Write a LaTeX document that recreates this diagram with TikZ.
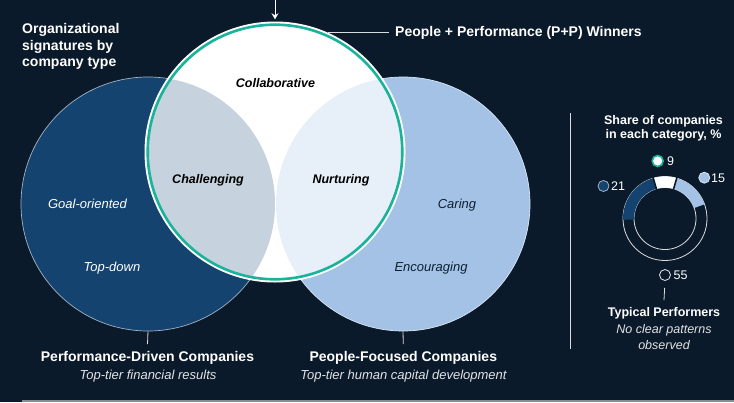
\documentclass[tikz,border=0pt]{standalone}
\usepackage{fontspec}
\setmainfont{Liberation Sans}
\usetikzlibrary{arrows.meta}

\definecolor{bgnavy}{HTML}{0B1A2A}
\definecolor{perfblue}{HTML}{14436F}
\definecolor{peopleblue}{HTML}{A3C2E6}
\definecolor{lensgrey}{HTML}{C6D2DD}
\definecolor{lenslight}{HTML}{E7EFF9}
\definecolor{pteal}{HTML}{19B29B}
\definecolor{inkdark}{HTML}{0E1F33}

\begin{document}
\begin{tikzpicture}[x=1pt,y=-1pt,
	ln/.style={draw=white!85!bgnavy, line width=0.8pt},
	hd/.style={text=white, font=\fontsize{14}{16.7}\selectfont\bfseries, inner xsep=0pt, inner ysep=6.5pt},
	sm/.style={text=white, font=\fontsize{12.5}{14.3}\selectfont\bfseries, inner xsep=0pt, inner ysep=6.5pt},
	sub/.style={text=white!88!bgnavy, font=\fontsize{13}{16}\selectfont\itshape, inner sep=0pt},
	trait/.style={text=black, font=\fontsize{12.5}{15}\selectfont\bfseries\itshape, inner sep=0pt},
	mood/.style={font=\fontsize{13}{15}\selectfont\itshape, inner sep=0pt},
	mk/.style={circle, minimum size=11pt, inner sep=0pt, line width=0.8pt},
	nb/.style={text=white, font=\fontsize{12.5}{15}\selectfont, inner sep=0pt, anchor=base west}]

\useasboundingbox (0,0) rectangle (734,402);
\fill[bgnavy] (0,0) rectangle (734,402);

%% cercles
\node[circle, minimum size=254pt, inner sep=0pt, fill=perfblue, draw=white!60!perfblue, line width=0.7pt] (perfcircle) at (148,204) {};
\node[circle, minimum size=254pt, inner sep=0pt, fill=peopleblue, draw=white!60!peopleblue, line width=0.7pt] (peoplecircle) at (403,204) {};
\node[circle, minimum size=261pt, inner sep=0pt, fill=white] (ppcircle) at (275,152) {};

\begin{scope}
\clip (ppcircle) circle (128pt);
\fill[lensgrey] (perfcircle) circle (127pt);
\fill[lenslight] (peoplecircle) circle (127pt);
\end{scope}
\draw[pteal, line width=2.6pt] (ppcircle) circle (127.3pt);

%% titre
\node[hd, inner ysep=0pt, anchor=north west, align=left] (title) at (22,23) {Organizational\\signatures by\\company type};

%% P+P
\coordinate (arrtop) at (275,0);
\draw[ln, draw=white, -{Stealth[length=6pt,width=7pt]}, shorten >=2pt] (arrtop) -- (ppcircle.north);
\node[hd, anchor=base west, inner xsep=6pt] (ppname) at (389,36.5) {People + Performance (P+P) Winners};
\draw[ln] (ppcircle.66) -- (ppcircle.66 -| ppname.west);

%% traits
\node[trait, anchor=base] (collab) at (275.5,87.3) {Collaborative};
\node[trait, anchor=base] (chall) at (208,183) {Challenging};
\node[trait, anchor=base] (nurt) at (341,183) {Nurturing};
\node[mood, text=white, anchor=base] (goal) at (87.5,208.5) {Goal-oriented};
\node[mood, text=white, anchor=base] (topdown) at (112,271) {Top-down};
\node[mood, text=inkdark, anchor=base] (caring) at (457,208.5) {Caring};
\node[mood, text=inkdark, anchor=base] (encour) at (431,271) {Encouraging};

%% noms en bas
\node[hd, anchor=base] (perfname) at (147.5,361) {Performance-Driven Companies};
\node[sub, anchor=base] (perfsub) at (148,379) {Top-tier financial results};
\draw[ln] (perfcircle.south) -- (perfname.north);

\node[hd, anchor=base] (peoplename) at (403.3,361) {People-Focused Companies};
\node[sub, anchor=base] (peoplesub) at (403.5,379) {Top-tier human capital development};
\draw[ln] (peoplecircle.south) -- (peoplename.north);

%% separateur
\coordinate (septop) at (570.5,113);
\coordinate (sepbot) at (570.5,349);
\draw[ln] (septop) -- (sepbot);

%% anneau
\node[sm, inner ysep=0pt, anchor=north, align=center] (sharetitle) at (663.5,114.9) {Share of companies\\in each category, \%};
\coordinate (donut) at (665,218.5);
\draw[ln] (donut) circle (42pt) (donut) circle (31pt);
\foreach \a/\b/\col in {19.8/73.8/peopleblue, 73.8/106.2/white, 106.2/181.8/perfblue}{
	\fill[\col] (donut) ++(\a:42pt) arc[start angle=\a, end angle=\b, radius=42pt]
		-- ++(\b:-11pt) arc[start angle=\b, end angle=\a, radius=31pt] -- cycle;
}
\foreach \a in {73.8,106.2}{
	\draw[bgnavy, line width=1.6pt] (donut) ++(\a:30pt) -- ++(\a:13pt);
}

%% legende
\node[mk, fill=white, draw=pteal, line width=1.6pt] (mkwin) at (657.7,161) {};
\node[nb] (nbwin) at (667,165.5) {9};
\node[mk, fill=peopleblue, draw=white!60!peopleblue] (mkpeople) at (704.3,177.7) {};
\node[nb] (nbpeople) at (711,182.2) {15};
\node[mk, fill=perfblue, draw=white!60!perfblue] (mkperf) at (603.5,186) {};
\node[nb] (nbperf) at (611,190.5) {21};
\node[mk, fill=bgnavy, draw=white!90!bgnavy] (mktyp) at (665,275) {};
\node[nb] (nbtyp) at (673.5,279.5) {55};

\node[sm, anchor=base] (typname) at (664,316) {Typical Performers};
\draw[ln, shorten <=7pt] (mktyp.south) -- (typname.north);
\node[sub, font=\fontsize{12.5}{16}\selectfont\itshape, anchor=north, align=center] (typsub) at (664,324.2) {No clear patterns\\observed};

%% filet
\coordinate (rulel) at (22,400.8);
\coordinate (ruler) at (734,400.8);
\draw[white!50!bgnavy, line width=1.6pt] (rulel) -- (ruler);

\end{tikzpicture}
\end{document}
